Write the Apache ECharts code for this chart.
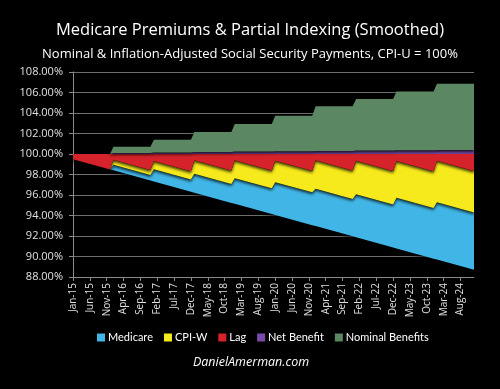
<!DOCTYPE html>
<html><head><meta charset="utf-8">
<script src="https://cdn.jsdelivr.net/npm/echarts@6/dist/echarts.min.js"></script>
<style>html,body{margin:0;padding:0;background:#000}#c{width:500px;height:389px}</style>
</head><body><div id="c"></div>
<script>
// Category labels (monthly, Jan-15 .. Dec-24)
const monthNames = ['Jan','Feb','Mar','Apr','May','Jun','Jul','Aug','Sep','Oct','Nov','Dec'];
const yearLabels = ['15','16','17','18','19','20','21','22','23','24'];
const categories = [];
yearLabels.forEach(y => monthNames.forEach(m => categories.push(m + '-' + y)));

// Corner months of the piecewise-linear areas (category indices)
const vertexMonths = [0, 11, 12, 23, 24, 35, 36, 47, 48, 59, 60, 71, 72, 83, 84, 95, 96, 107, 108, 119];

// Stacked values (percent)
const baseLevel       = [99.50, 98.50, 98.41, 97.41, 97.32, 96.32, 96.23, 95.23, 95.14, 94.15, 94.05, 93.06, 92.97, 91.97, 91.88, 90.88, 90.79, 89.79, 89.70, 88.70];
const medicare        = [0, 0, 0.55, 0.55, 1.20, 1.20, 1.85, 1.85, 2.50, 2.50, 3.20, 3.20, 3.65, 3.65, 4.20, 4.20, 4.95, 4.95, 5.60, 5.60];
const cpiW            = [0, 0, 0.47, 0.47, 0.80, 0.80, 1.30, 1.30, 1.75, 1.75, 2.10, 2.10, 2.77, 2.77, 3.26, 3.26, 3.58, 3.58, 4.05, 4.05];
const lag             = [0.50, 1.50, 0.57, 1.57, 0.68, 1.68, 0.62, 1.62, 0.61, 1.60, 0.65, 1.64, 0.61, 1.61, 0.66, 1.66, 0.68, 1.68, 0.65, 1.65];
const netBenefit      = [0, 0, 0.10, 0.10, 0.15, 0.15, 0.20, 0.20, 0.25, 0.25, 0.28, 0.28, 0.30, 0.30, 0.33, 0.33, 0.36, 0.36, 0.40, 0.40];
const nominalBenefits = [0, 0, 0.60, 0.60, 1.25, 1.25, 1.95, 1.95, 2.68, 2.68, 3.46, 3.46, 4.35, 4.35, 5.03, 5.03, 5.74, 5.74, 6.46, 6.46];

const yTicks = {min: 88, max: 108, step: 2};

const titleText = 'Medicare Premiums & Partial Indexing (Smoothed)';
const subtitleText = 'Nominal & Inflation-Adjusted Social Security Payments, CPI-U = 100%';
const watermark = 'DanielAmerman.com';

function pairs(vals) { return vertexMonths.map((m, i) => [m, vals[i]]); }

function areaSeries(name, vals, color, shadow) {
  return {
    name: name, type: 'line', stack: 'total', stackStrategy: 'all',
    symbol: 'none', silent: true, animation: false,
    data: pairs(vals),
    itemStyle: {color: color},
    lineStyle: {opacity: 0},
    areaStyle: {color: color, opacity: 1,
      shadowColor: shadow ? 'rgba(0,0,0,0.75)' : 'transparent', shadowBlur: 3, shadowOffsetY: 2},
    emphasis: {disabled: true}
  };
}

const FONT = 'Open Sans';
const chart = echarts.init(document.getElementById('c'), null, {renderer: 'canvas'});
chart.setOption({
  backgroundColor: '#000',
  animation: false,
  title: [
    {text: titleText, left: 'center', top: 17, textStyle: {color: '#fff', fontSize: 16.5, fontWeight: 'normal', fontFamily: FONT}},
    {text: subtitleText, left: 'center', top: 43, textStyle: {color: '#fff', fontSize: 13, fontWeight: 'normal', fontFamily: FONT}},
    {text: watermark, left: 246, top: 351, textAlign: 'center', textStyle: {color: '#fff', fontSize: 12.5, fontWeight: 'normal', fontStyle: 'italic', fontFamily: FONT}}
  ],
  legend: {
    data: ['Medicare', 'CPI-W', 'Lag', 'Net Benefit', 'Nominal Benefits'],
    left: 92, top: 327, itemWidth: 8, itemHeight: 8, itemGap: 11, icon: 'rect',
    textStyle: {color: '#fff', fontSize: 11, fontFamily: 'Lato', padding: [0, 0, 0, -2]}, selectedMode: false
  },
  grid: {left: 73, right: 26, top: 72, bottom: 112, containLabel: false, outerBoundsMode: 'none'},
  xAxis: {
    type: 'category', data: categories, boundaryGap: false,
    axisLine: {show: true, lineStyle: {color: '#8a8a8a', width: 1}},
    axisTick: {show: true, interval: 4, length: 4, lineStyle: {color: '#8a8a8a'}},
    axisLabel: {interval: 4, rotate: 90, color: '#e0e0e0', fontSize: 10, margin: 6, fontFamily: FONT},
    splitLine: {show: false}
  },
  yAxis: {
    type: 'value', min: yTicks.min, max: yTicks.max, interval: yTicks.step,
    axisLine: {show: true, lineStyle: {color: '#8a8a8a', width: 1}},
    axisTick: {show: true, length: 4, lineStyle: {color: '#8a8a8a'}},
    axisLabel: {color: '#e0e0e0', fontSize: 11, margin: 10, fontFamily: FONT, formatter: v => v.toFixed(2) + '%'},
    splitLine: {show: true, lineStyle: {color: '#6e6e6e', width: 1}}
  },
  series: [
    Object.assign(areaSeries('base', baseLevel, 'transparent', false), {areaStyle: {opacity: 0}}),
    areaSeries('Medicare', medicare, '#41b6e6', true),
    areaSeries('CPI-W', cpiW, '#f6ea1c', true),
    areaSeries('Lag', lag, '#d6232b', true),
    areaSeries('Net Benefit', netBenefit, '#7a4aa8', false),
    areaSeries('Nominal Benefits', nominalBenefits, '#5b8763', true)
  ]
});
</script>
</body></html>
